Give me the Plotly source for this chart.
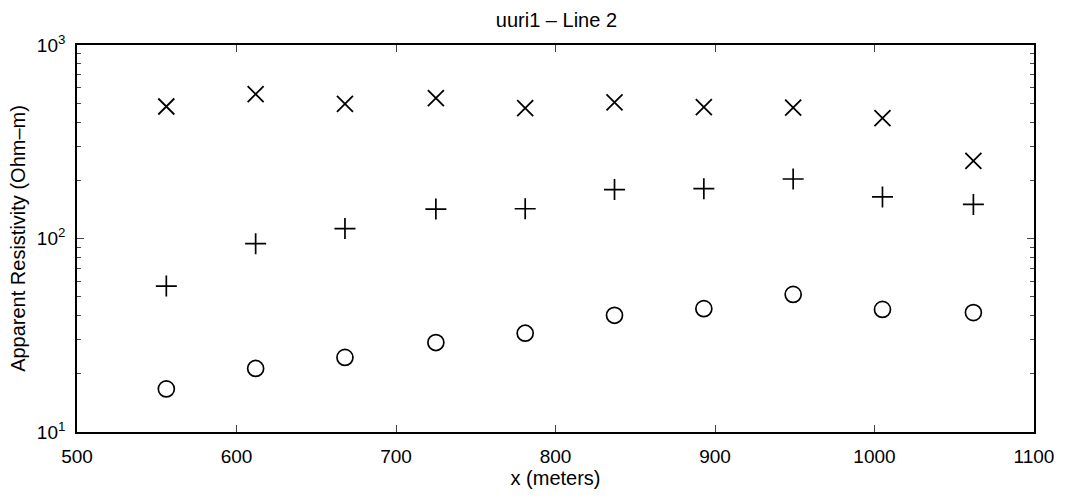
import plotly.graph_objects as go

x_m = [556, 612, 668, 725, 781, 837, 893, 949, 1005, 1062]
rho_x = [481, 557, 496, 531, 472, 505, 477, 475, 419, 252]
rho_plus = [56.8, 94, 112.6, 142, 142.5, 179, 181, 203, 164, 150]
rho_circle = [16.7, 21.3, 24.3, 29.0, 32.4, 40.1, 43.4, 51.4, 43.0, 41.4]

x_ticks = [500, 600, 700, 800, 900, 1000, 1100]
y_ticks = [10, 100, 1000]
y_ticktext = ["10<sup>1</sup>", "10<sup>2</sup>", "10<sup>3</sup>"]
y_minor = [v * d for d in (1, 10) for v in range(20, 100, 10)]

fig = go.Figure()
fig.add_trace(go.Scatter(x=x_m, y=rho_x, mode="markers",
                         marker=dict(symbol="x-thin", size=16, color="black",
                                     line=dict(width=1.8, color="black"))))
fig.add_trace(go.Scatter(x=x_m, y=rho_plus, mode="markers",
                         marker=dict(symbol="cross-thin", size=15, color="black",
                                     line=dict(width=1.7, color="black"))))
fig.add_trace(go.Scatter(x=x_m, y=rho_circle, mode="markers",
                         marker=dict(symbol="circle-open", size=16, color="black",
                                     line=dict(width=1.7, color="black"))))

font = "Liberation Sans, Arial, Helvetica, sans-serif"
fig.update_layout(
    width=1066, height=497,
    margin=dict(l=77, r=30, t=45, b=64),
    paper_bgcolor="white", plot_bgcolor="white",
    showlegend=False,
    font=dict(family=font, color="black", size=19),
    title=dict(text="uuri1 – Line 2", x=0.522, xanchor="center", y=0.96, yanchor="middle",
               font=dict(size=20, family=font, color="black")),
)
fig.update_xaxes(
    range=[500, 1100], tickvals=x_ticks, ticks="inside", ticklen=7, tickwidth=1.3,
    showline=True, linecolor="black", linewidth=1.6, mirror="ticks",
    showgrid=False, zeroline=False, tickfont=dict(size=19), ticklabelstandoff=6,
    title=dict(text="x (meters)", font=dict(size=20), standoff=4),
)
fig.update_yaxes(
    type="log", range=[1, 3], tickvals=y_ticks, ticktext=y_ticktext,
    ticks="inside", ticklen=7, tickwidth=1.3,
    minor=dict(tickvals=y_minor, ticks="inside", ticklen=4, tickwidth=1.3, showgrid=False),
    showline=True, linecolor="black", linewidth=1.6, mirror="ticks",
    showgrid=False, zeroline=False, tickfont=dict(size=19), ticklabelstandoff=6,
    title=dict(text="Apparent Resistivity (Ohm–m)", font=dict(size=20), standoff=6),
)

fig.write_html("out.html")
